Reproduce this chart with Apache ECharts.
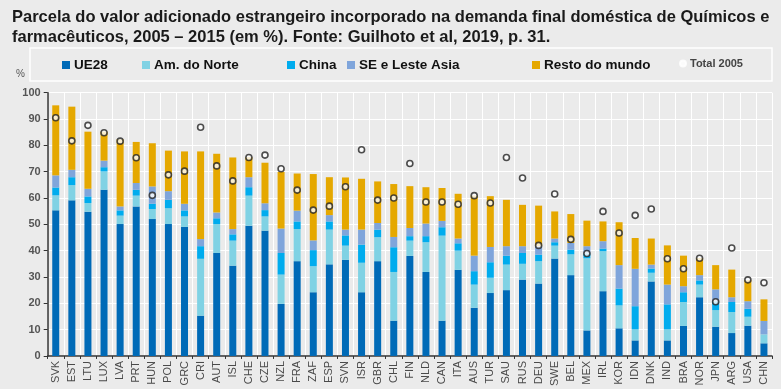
<!DOCTYPE html>
<html><head><meta charset="utf-8">
<script src="https://cdn.jsdelivr.net/npm/echarts@6/dist/echarts.min.js"></script>
<style>html,body{margin:0;padding:0;background:#ebebeb;}#c{width:781px;height:389px;}</style>
</head><body><div id="c"></div>
<script>
const categories = ['SVK','EST','LTU','LUX','LVA','PRT','HUN','POL','GRC','CRI','AUT','ISL','CHE','CZE','NZL','FRA','ZAF','ESP','SVN','ISR','GBR','CHL','FIN','NLD','CAN','ITA','AUS','TUR','SAU','RUS','DEU','SWE','BEL','MEX','IRL','KOR','IDN','DNK','IND','BRA','NOR','JPN','ARG','USA','CHN'];
const ue28 = [55.3,59.1,54.8,63.1,50.1,56.8,52.0,50.1,49.0,15.3,39.1,34.3,49.5,47.6,19.8,36.0,24.2,34.8,36.5,24.2,36.0,13.4,38.0,31.9,13.4,32.7,18.3,23.9,25.0,29.0,27.5,37.0,30.7,9.7,24.6,10.5,5.9,28.3,5.9,11.4,22.3,11.1,8.7,11.5,4.8];
const amNorte = [5.7,5.8,3.3,7.0,3.2,4.1,3.8,6.0,4.0,21.6,11.0,9.5,11.4,5.4,11.1,12.2,9.9,13.2,5.4,11.2,9.1,18.5,5.8,11.3,32.3,7.3,8.8,5.8,9.7,6.0,8.5,4.9,7.9,27.4,15.2,8.7,4.2,3.3,4.2,9.1,4.8,6.3,8.0,3.4,3.4];
const china = [3.0,3.0,2.5,1.6,2.0,2.2,2.0,3.2,2.3,4.8,2.2,2.4,3.2,2.4,8.2,2.9,6.1,3.1,3.9,6.9,2.9,9.4,1.7,2.3,3.2,2.8,5.1,5.9,3.4,4.1,2.5,1.3,1.8,1.8,1.0,6.4,8.8,1.6,9.5,3.7,1.6,3.4,3.8,3.0,0.0];
const seAsia = [4.6,2.8,2.9,2.5,1.5,2.6,6.6,3.3,2.5,2.7,2.2,2.0,3.8,2.6,9.3,4.1,3.7,2.4,2.2,5.7,2.5,3.9,3.1,4.8,2.4,1.8,5.9,5.8,3.6,2.6,3.2,1.4,2.5,2.8,2.8,8.9,14.2,1.5,7.5,2.3,2.0,4.5,1.8,2.9,5.1];
const resto = [26.6,24.0,21.7,11.0,25.5,15.6,16.4,15.4,19.9,33.3,22.3,27.2,7.6,15.4,21.5,14.1,25.2,14.4,19.8,19.3,15.8,20.1,15.9,13.8,12.5,17.0,22.8,19.3,17.6,15.7,15.4,10.3,11.0,9.7,7.5,16.3,11.7,9.9,14.9,11.6,6.5,9.2,10.5,8.0,8.2];
const total2005 = [90.5,81.7,87.6,84.8,81.6,75.3,61.0,68.8,70.2,86.9,72.2,66.5,75.4,76.3,71.1,63.0,55.4,56.9,64.3,78.3,59.2,60.0,73.1,58.5,58.5,57.6,60.9,58.1,75.4,67.6,42.0,61.5,44.3,38.9,54.9,46.7,53.4,55.8,36.9,33.1,37.1,20.6,41.0,28.9,27.8];
const yTicks = [0,10,20,30,40,50,60,70,80,90,100];

const names = ['UE28','Am. do Norte','China','SE e Leste Asia','Resto do mundo','Total 2005'];
const colors = ['#006ab7','#80d2e4','#00acee','#7fa5db','#e5a800','#222'];
const datasets = [ue28, amNorte, china, seAsia, resto];
const legendLeft = [62, 142, 287, 347, 532, 679];

const chart = echarts.init(document.getElementById('c'));
const font = 'Liberation Sans, Arial, sans-serif';
const legends = names.map((n,i)=>({
  left: legendLeft[i], top: 58, itemWidth: i===5?6:8, itemHeight: i===5?6:8, itemGap: 4,
  data: [i===5 ? {name:n, icon:'emptyCircle'} : {name:n, icon:'rect'}],
  textStyle: {fontFamily: font, fontSize: i===5?11:13.5, fontWeight:'bold', color: i===5?'#444':'#111', padding:[0,0,0,-1]},
  selectedMode: false, padding: 0
}));
const series = datasets.map((d,i)=>({
  name: names[i], type:'bar', stack:'s', data:d, barWidth:7,
  itemStyle:{color:colors[i]}, silent:true
}));
series.push({
  name:'Total 2005', type:'scatter', data: total2005, symbol:'circle', symbolSize:6,
  itemStyle:{color:'#fff', borderColor:'#222', borderWidth:1.6}, z:5, silent:true
});
chart.setOption({
  backgroundColor:'#ebebeb',
  animation:false,
  title:{text:'Parcela do valor adicionado estrangeiro incorporado na demanda final doméstica de Químicos e\nfarmacêuticos, 2005 – 2015 (em %). Fonte: Guilhoto et al, 2019, p. 31.',
    left:7, top:2, textStyle:{fontFamily:font, fontSize:16.5, fontWeight:'bold', color:'#1a1a1a', lineHeight:20}},
  graphic:[
    {type:'rect', shape:{x:30,y:48,width:742,height:33}, style:{fill:'#ebebeb', stroke:'#fff', lineWidth:1.5}, z:-1},
    {type:'text', left:16, top:69, style:{text:'%', font:'10px '+font, fill:'#555'}}
  ],
  legend: legends,
  grid:{left:47.7, right:9, top:92.7, bottom:32.3},
  xAxis:{type:'category', data:categories,
    axisLine:{lineStyle:{color:'#333', width:1.5}},
    axisTick:{show:true, alignWithLabel:false, length:3, lineStyle:{color:'#333'}},
    splitLine:{show:true, interval:0, lineStyle:{color:'#fff', width:1}},
    axisLabel:{rotate:90, interval:0, fontFamily:font, fontSize:11, color:'#4a4a4a', margin:5}},
  yAxis:{type:'value', min:0, max:100, interval:10,
    axisLine:{show:true, lineStyle:{color:'#333', width:1.5}},
    axisTick:{show:true, length:4, lineStyle:{color:'#333'}},
    splitLine:{lineStyle:{color:'#fff', width:1}},
    axisLabel:{fontFamily:font, fontSize:11, fontWeight:'bold', color:'#555', margin:7}},
  series: series
});
</script></body></html>
